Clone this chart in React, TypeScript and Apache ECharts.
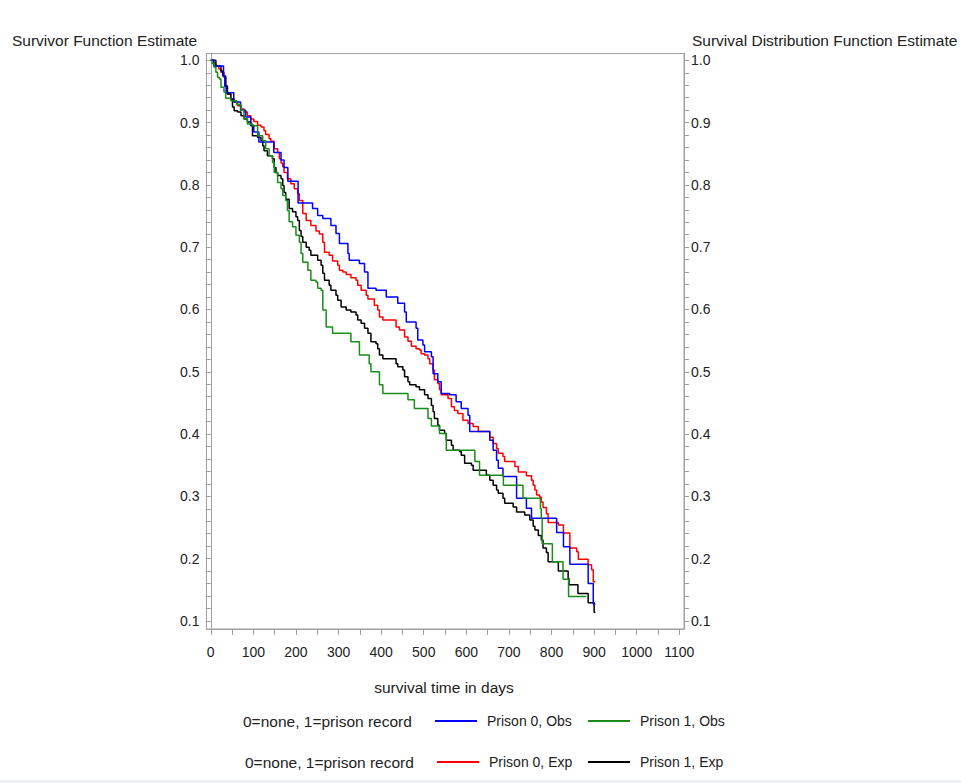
import React, { useEffect, useRef } from 'react';
import * as echarts from 'echarts';

// ---- data (time in days, survival estimate) ----
const prison0Obs: [number, number][] = [
  [0, 1.0], [7, 0.991], [30, 0.975], [33, 0.958], [36, 0.948], [54, 0.933], [70, 0.92], [82, 0.909],
  [94, 0.896], [101, 0.885], [113, 0.869], [148, 0.852], [165, 0.84], [172, 0.828], [181, 0.806],
  [205, 0.771], [239, 0.762], [251, 0.751], [263, 0.746], [282, 0.735], [294, 0.722], [302, 0.706],
  [322, 0.69], [325, 0.679], [349, 0.674], [361, 0.66], [369, 0.634], [388, 0.631], [412, 0.62],
  [439, 0.61], [455, 0.596], [459, 0.58], [482, 0.57], [486, 0.551], [498, 0.543], [502, 0.532],
  [518, 0.524], [522, 0.497], [533, 0.484], [541, 0.465], [561, 0.463], [576, 0.452], [588, 0.441],
  [604, 0.43], [608, 0.404], [655, 0.39], [663, 0.374], [671, 0.358], [675, 0.345], [686, 0.332],
  [718, 0.297], [741, 0.281], [753, 0.265], [812, 0.242], [828, 0.219], [843, 0.191], [886, 0.16],
  [898, 0.127], [903, 0.127],
];

const prison1Obs: [number, number][] = [
  [0, 1.0], [3, 0.995], [8, 0.989], [12, 0.981], [16, 0.973], [20, 0.97], [24, 0.957], [31, 0.949],
  [35, 0.939], [47, 0.935], [61, 0.929], [71, 0.92], [78, 0.906], [86, 0.898], [98, 0.895],
  [110, 0.879], [122, 0.871], [129, 0.858], [137, 0.847], [145, 0.836], [149, 0.82], [157, 0.804],
  [165, 0.794], [169, 0.783], [176, 0.775], [180, 0.759], [184, 0.741], [192, 0.733], [200, 0.719],
  [208, 0.708], [212, 0.69], [216, 0.676], [228, 0.663], [235, 0.647], [247, 0.644], [251, 0.634],
  [259, 0.631], [263, 0.599], [271, 0.572], [286, 0.562], [329, 0.548], [349, 0.527], [372, 0.513],
  [376, 0.5], [396, 0.479], [404, 0.465], [463, 0.455], [478, 0.441], [510, 0.425], [518, 0.413],
  [537, 0.401], [553, 0.374], [620, 0.356], [631, 0.334], [687, 0.318], [733, 0.297], [774, 0.28],
  [776, 0.265], [778, 0.224], [802, 0.195], [827, 0.167], [840, 0.139], [882, 0.139],
];

const prison0Exp: [number, number][] = [
  [0, 1.0], [7, 0.995], [12, 0.991], [19, 0.986], [24, 0.981], [31, 0.973], [35, 0.959], [39, 0.946],
  [47, 0.938], [55, 0.933], [63, 0.927], [71, 0.922], [78, 0.917], [86, 0.911], [94, 0.906],
  [101, 0.902], [110, 0.896], [118, 0.893], [125, 0.887], [129, 0.881], [137, 0.874], [141, 0.87],
  [149, 0.858], [157, 0.852], [161, 0.842], [165, 0.835], [169, 0.829], [172, 0.82], [180, 0.81],
  [188, 0.802], [196, 0.794], [204, 0.786], [208, 0.775], [216, 0.754], [224, 0.743], [235, 0.735],
  [247, 0.726], [255, 0.721], [263, 0.708], [267, 0.692], [278, 0.687], [286, 0.678], [298, 0.671],
  [302, 0.663], [310, 0.66], [318, 0.656], [329, 0.651], [341, 0.647], [345, 0.639], [353, 0.631],
  [365, 0.623], [369, 0.617], [384, 0.607], [392, 0.599], [396, 0.588], [404, 0.583], [435, 0.572],
  [443, 0.567], [455, 0.556], [463, 0.549], [471, 0.541], [482, 0.537], [490, 0.535], [494, 0.529],
  [502, 0.527], [510, 0.521], [514, 0.513], [522, 0.503], [525, 0.487], [533, 0.481], [537, 0.471],
  [541, 0.463], [557, 0.457], [565, 0.444], [572, 0.438], [580, 0.433], [592, 0.422], [604, 0.417],
  [616, 0.412], [628, 0.404], [655, 0.395], [663, 0.385], [671, 0.377], [675, 0.369], [686, 0.364],
  [690, 0.356], [714, 0.348], [722, 0.339], [741, 0.333], [753, 0.326], [757, 0.318], [761, 0.31],
  [765, 0.302], [772, 0.299], [776, 0.291], [780, 0.282], [788, 0.272], [792, 0.258], [816, 0.254],
  [828, 0.241], [843, 0.217], [859, 0.211], [863, 0.199], [886, 0.19], [894, 0.182], [898, 0.163],
  [903, 0.163],
];

const prison1Exp: [number, number][] = [
  [0, 1.0], [12, 0.991], [24, 0.983], [28, 0.975], [35, 0.959], [39, 0.946], [47, 0.938], [51, 0.925],
  [55, 0.919], [63, 0.917], [71, 0.911], [78, 0.906], [86, 0.901], [94, 0.895], [98, 0.879],
  [110, 0.876], [118, 0.871], [122, 0.863], [125, 0.855], [133, 0.847], [145, 0.842], [149, 0.828],
  [153, 0.82], [157, 0.815], [165, 0.81], [169, 0.799], [172, 0.788], [176, 0.777], [184, 0.762],
  [192, 0.757], [200, 0.749], [204, 0.743], [208, 0.727], [212, 0.717], [216, 0.708], [224, 0.7],
  [231, 0.695], [235, 0.687], [251, 0.679], [259, 0.671], [263, 0.658], [267, 0.647], [278, 0.639],
  [282, 0.631], [294, 0.623], [298, 0.615], [306, 0.604], [318, 0.599], [329, 0.596], [341, 0.591],
  [345, 0.583], [353, 0.578], [361, 0.57], [369, 0.562], [376, 0.548], [388, 0.545], [392, 0.537],
  [396, 0.527], [404, 0.521], [435, 0.513], [439, 0.508], [451, 0.503], [455, 0.492], [463, 0.484],
  [467, 0.479], [482, 0.476], [490, 0.471], [502, 0.463], [510, 0.457], [518, 0.446], [522, 0.436],
  [525, 0.425], [533, 0.414], [537, 0.406], [549, 0.401], [553, 0.39], [565, 0.382], [569, 0.374],
  [584, 0.372], [588, 0.366], [596, 0.353], [612, 0.35], [616, 0.342], [647, 0.334], [655, 0.326],
  [663, 0.318], [671, 0.31], [675, 0.305], [686, 0.297], [690, 0.289], [710, 0.283], [718, 0.275],
  [737, 0.27], [749, 0.262], [757, 0.252], [761, 0.246], [769, 0.237], [776, 0.23], [780, 0.217],
  [788, 0.21], [792, 0.195], [816, 0.18], [839, 0.168], [841, 0.158], [862, 0.144], [886, 0.129],
  [900, 0.114], [903, 0.114],
];

const seriesNames = ['Prison 0, Obs', 'Prison 1, Obs', 'Prison 0, Exp', 'Prison 1, Exp'];
const seriesColors = ['#0000ff', '#1a8c1a', '#ff0000', '#000000'];

const xTickValues = [0, 50, 100, 150, 200, 250, 300, 350, 400, 450, 500, 550, 600, 650, 700, 750, 800, 850, 900, 950, 1000, 1050, 1100];
const xLabelValues = [0, 100, 200, 300, 400, 500, 600, 700, 800, 900, 1000, 1100];
const yLabelValues = [0.1, 0.2, 0.3, 0.4, 0.5, 0.6, 0.7, 0.8, 0.9, 1.0];
const yTickValues = [
  0.1, 0.12, 0.14, 0.16, 0.18, 0.2, 0.22, 0.24, 0.26, 0.28, 0.3, 0.32, 0.34, 0.36, 0.38,
  0.4, 0.42, 0.44, 0.46, 0.48, 0.5, 0.52, 0.54, 0.56, 0.58, 0.6, 0.62, 0.64, 0.66, 0.68,
  0.7, 0.72, 0.74, 0.76, 0.78, 0.8, 0.82, 0.84, 0.86, 0.88, 0.9, 0.92, 0.94, 0.96, 0.98, 1.0,
];

const leftAxisTitle = 'Survivor Function Estimate';
const rightAxisTitle = 'Survival Distribution Function Estimate';
const xAxisTitle = 'survival time in days';
const legendTitle = '0=none, 1=prison record';

const FONT = '"Liberation Sans", Arial, sans-serif';
const TXT = '#222222';
const AX = '#a0a0a0';

export default function App() {
  const ref = useRef<HTMLDivElement>(null);

  useEffect(() => {
    if (!ref.current) return;
    const chart = echarts.init(ref.current, undefined, { renderer: 'svg' });

    const yAxisBase = (position: 'left' | 'right') => ({
      type: 'value',
      position,
      min: 0.087,
      max: 1.011,
      axisLine: { show: true, lineStyle: { color: AX, width: 1 } },
      axisTick: { show: true, length: 5, customValues: yTickValues, lineStyle: { color: AX } },
      axisLabel: {
        customValues: yLabelValues,
        formatter: (v: number) => v.toFixed(1),
        margin: 7,
        fontSize: 14,
        color: TXT,
        fontFamily: FONT,
      },
      splitLine: { show: false },
    });

    const datasets = [prison0Obs, prison1Obs, prison0Exp, prison1Exp];

    const legendCommon = {
      icon: 'rect',
      itemWidth: 42,
      itemHeight: 2,
      padding: 0,
      selectedMode: false,
      textStyle: { fontSize: 14, lineHeight: 14, color: TXT, fontFamily: FONT, padding: [0, 0, 0, 5] },
    };

    const textEl = (text: string, x: number, y: number, align: string, size: number) => ({
      type: 'text',
      x,
      y,
      style: {
        text,
        fill: TXT,
        font: `${size}px ${FONT}`,
        textAlign: align,
        textVerticalAlign: 'middle',
      },
    });

    chart.setOption({
      animation: false,
      backgroundColor: '#ffffff',
      grid: {
        left: 206.5,
        right: 961 - 684,
        top: 53.5,
        bottom: 783 - 629,
        show: true,
        borderColor: AX,
        borderWidth: 1,
        backgroundColor: 'transparent',
      },
      xAxis: {
        type: 'value',
        min: -10,
        max: 1111,
        axisLine: { show: true, lineStyle: { color: AX } },
        axisTick: { show: true, length: 6, customValues: xTickValues, lineStyle: { color: AX } },
        axisLabel: {
          customValues: xLabelValues,
          formatter: (v: number) => String(v),
          margin: 16,
          fontSize: 14,
          color: TXT,
          fontFamily: FONT,
        },
        splitLine: { show: false },
      },
      yAxis: [yAxisBase('left'), yAxisBase('right')],
      legend: [
        { ...legendCommon, data: [seriesNames[0]], left: 435, top: 714 },
        { ...legendCommon, data: [seriesNames[1]], left: 588, top: 714 },
        { ...legendCommon, data: [seriesNames[2]], left: 437, top: 755 },
        { ...legendCommon, data: [seriesNames[3]], left: 588, top: 755 },
      ],
      graphic: [
        textEl(leftAxisTitle, 12, 40, 'left', 15.5),
        textEl(rightAxisTitle, 692, 40, 'left', 15.5),
        textEl(xAxisTitle, 444, 687, 'center', 15.5),
        textEl(legendTitle, 243, 721, 'left', 15.5),
        textEl(legendTitle, 245, 762, 'left', 15.5),
        { type: 'rect', shape: { x: 0, y: 780, width: 961, height: 3 }, style: { fill: '#eef0f5' } },
      ],
      series: [2, 3, 0, 1].map((i) => ({
        name: seriesNames[i],
        type: 'line',
        step: 'end',
        symbol: 'none',
        xAxisIndex: 0,
        yAxisIndex: 0,
        data: datasets[i],
        color: seriesColors[i],
        lineStyle: { color: seriesColors[i], width: 1.5 },
        emphasis: { disabled: true },
      })),
    });

    return () => chart.dispose();
  }, []);

  return (
    <div
      ref={ref}
      style={{ position: 'fixed', left: 0, top: 0, width: 961, height: 783, background: '#fff' }}
    />
  );
}
